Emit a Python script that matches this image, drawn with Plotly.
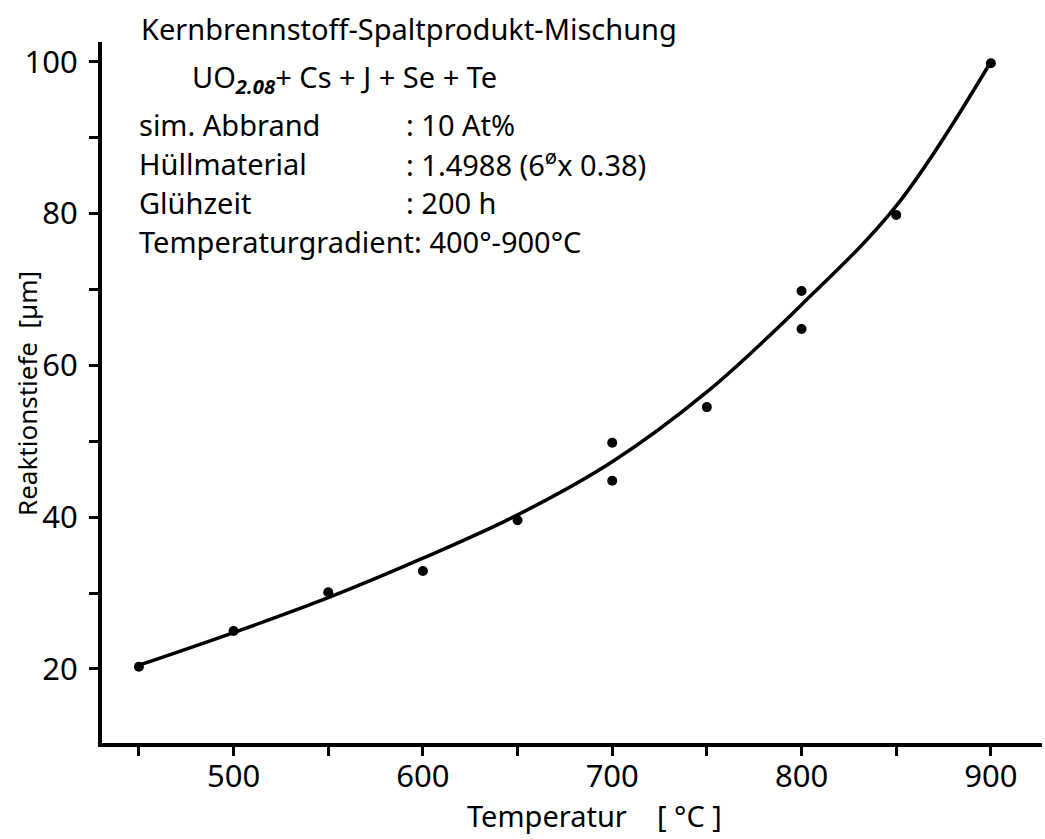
import plotly.graph_objects as go

# Measured data points (Temperatur in °C, Reaktionstiefe in µm)
temp_pts = [450, 500, 550, 600, 650, 700, 700, 750, 800, 800, 850, 900]
depth_pts = [20.3, 25.0, 30.1, 32.9, 39.6, 49.8, 44.8, 54.5, 69.8, 64.8, 79.8, 99.8]

# Fitted curve, values
curve_temp = [450, 500, 550, 600, 650, 700, 750, 800, 850, 900]
curve_depth = [20.5, 24.8, 29.4, 34.6, 40.3, 47.3, 56.5, 68.0, 81.0, 100.0]

x_tickvals = [450, 500, 550, 600, 650, 700, 750, 800, 850, 900]
x_ticktext = ["", "500", "", "600", "", "700", "", "800", "", "900"]
y_tickvals = [20, 30, 40, 50, 60, 70, 80, 90, 100]
y_ticktext = ["20", "", "40", "", "60", "", "80", "", "100"]

FONT = "Noto Sans"
W, H = 1045, 839
ML, MR, MT, MB = 102, 3, 42, 96
PW, PH = W - ML - MR, H - MT - MB


def px(x):
    return (x - ML) / PW


def py(y):
    return (H - MB - y) / PH


fig = go.Figure()
fig.add_trace(go.Scatter(
    x=curve_temp, y=curve_depth, mode="lines",
    line=dict(color="black", width=3.5, shape="spline", smoothing=1.0),
    hoverinfo="skip", showlegend=False))
fig.add_trace(go.Scatter(
    x=temp_pts, y=depth_pts, mode="markers",
    marker=dict(color="black", size=10),
    showlegend=False))

axis_common = dict(
    showline=True, linecolor="black", linewidth=4,
    ticks="outside", ticklen=9, tickwidth=2.5, tickcolor="black",
    showgrid=False, zeroline=False,
    tickfont=dict(family=FONT, size=31, color="black"),
)
fig.update_xaxes(range=[430.5, 927], tickmode="array",
                 tickvals=x_tickvals, ticktext=x_ticktext,
                 ticklabelstandoff=-6, **axis_common)
fig.update_yaxes(range=[10.25, 102.6], tickmode="array",
                 tickvals=y_tickvals, ticktext=y_ticktext,
                 ticklabelstandoff=5, **axis_common)

TF = dict(family=FONT, size=29, color="black")
ann = []


def text(x, y, s, **kw):
    d = dict(x=px(x), y=py(y), xref="paper", yref="paper", text=s,
             showarrow=False, xanchor="left", yanchor="middle", font=TF)
    d.update(kw)
    ann.append(d)


text(139, 28, "Kernbrennstoff-Spaltprodukt-Mischung")
text(190, 79, "UO<sub><b><i>2.08</i></b></sub>+ Cs + J + Se + Te")
text(137, 124, "sim. Abbrand")
text(404, 124, ": 10 At%")
text(137, 163, "Hüllmaterial")
text(404, 163, ": 1.4988 (6<sup>ø</sup>x 0.38)")
text(137, 202, "Glühzeit")
text(404, 202, ": 200 h")
text(137, 241, "Temperaturgradient: 400°-900°C")

# axis titles
text(594, 815, "Temperatur\u00a0\u00a0\u00a0\u00a0[\u00a0°C\u00a0]", xanchor="center")
text(27, 394, "Reaktionstiefe\u00a0\u00a0[µm]", xanchor="center",
     textangle=-90, font=dict(family=FONT, size=26, color="black"))

fig.update_layout(
    width=W, height=H,
    margin=dict(l=ML, r=MR, t=MT, b=MB),
    paper_bgcolor="white", plot_bgcolor="white",
    annotations=ann,
)

fig.write_html("out.html")
